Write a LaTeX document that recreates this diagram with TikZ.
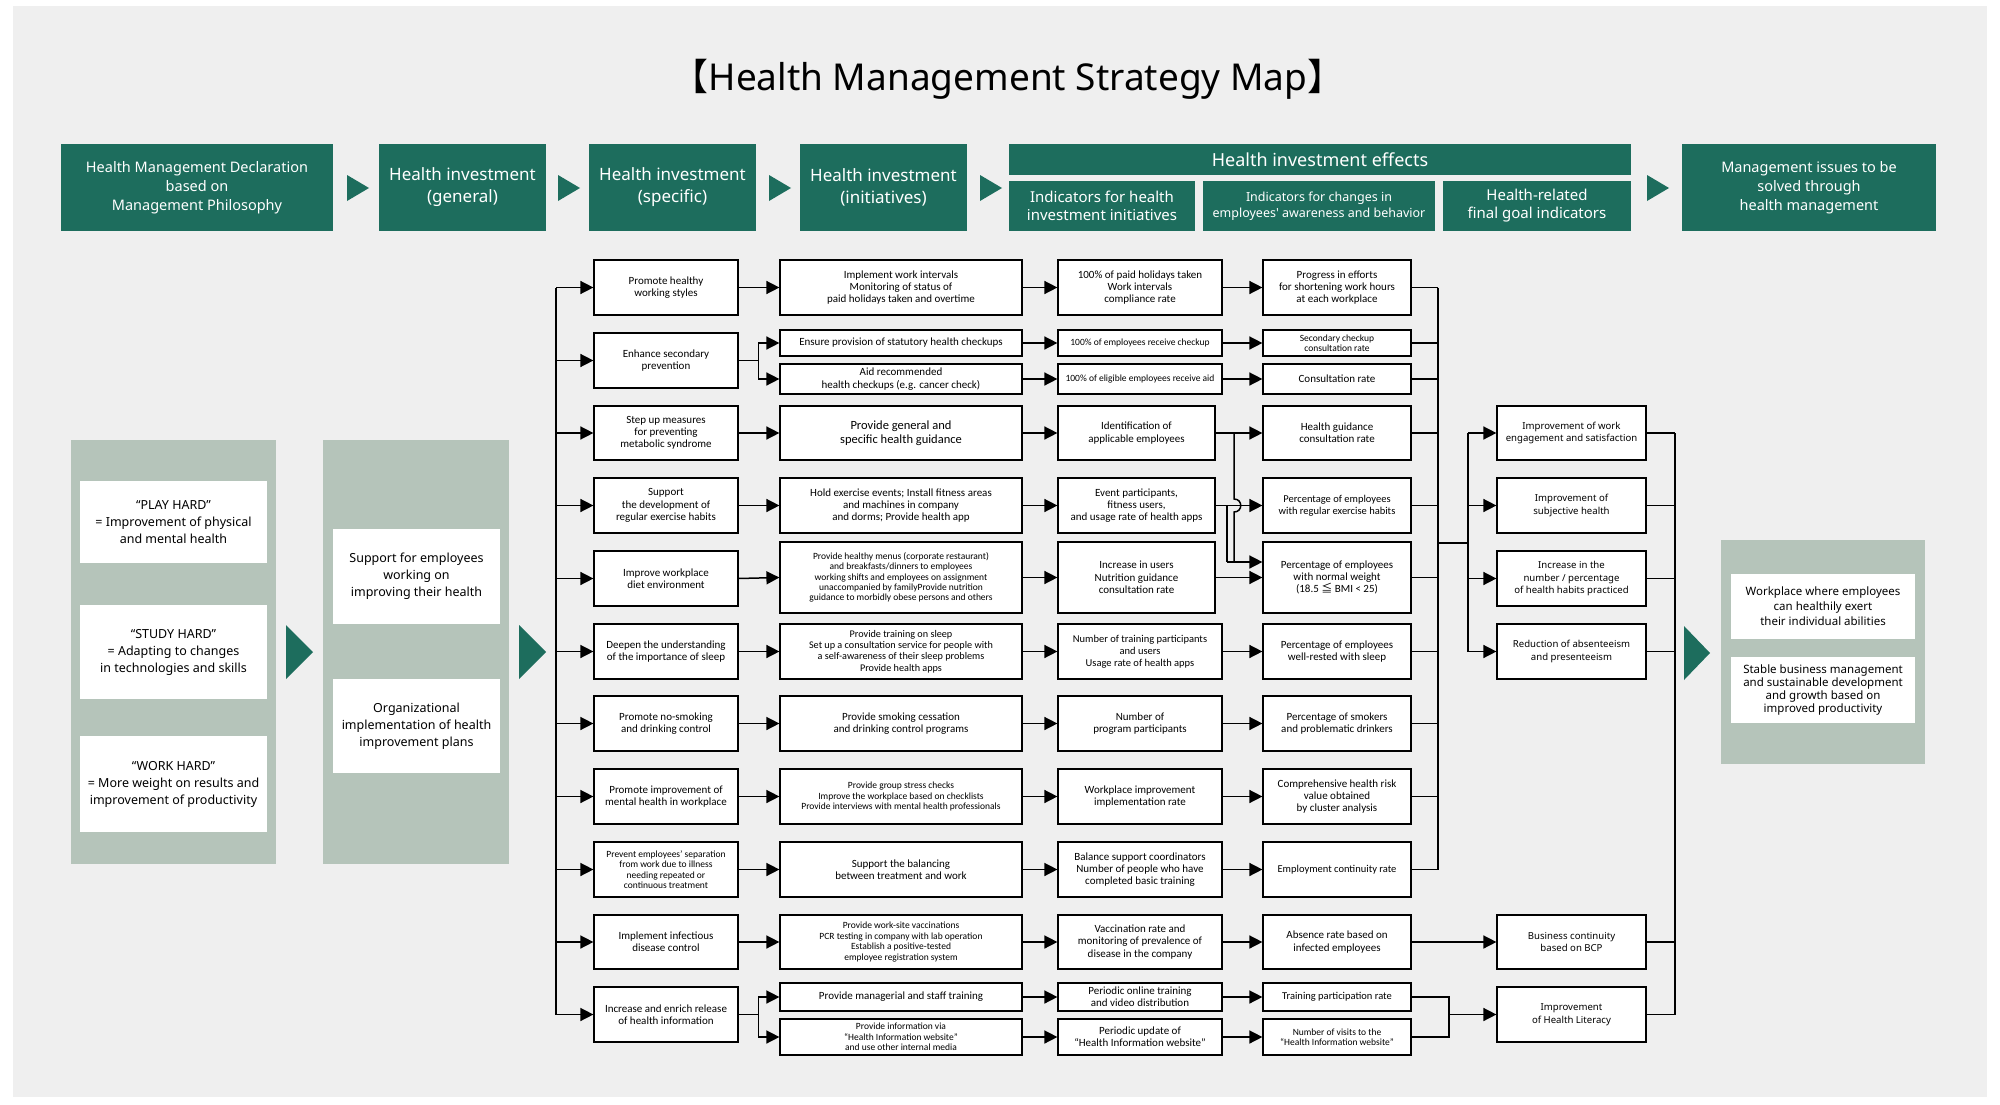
\documentclass[tikz,border=0pt]{standalone}
\usepackage{fontspec}
\setmainfont{Carlito}
\newfontfamily\hdfont{Noto Sans}
\newfontfamily\cjkfont{Noto Sans CJK JP}
\usetikzlibrary{arrows.meta,positioning}
\definecolor{hdgreen}{HTML}{1D6D5D}
\definecolor{panelgray}{HTML}{B5C4BA}
\definecolor{bggray}{HTML}{EFEFEF}
\tikzset{
  cell/.style={draw=black, line width=1.2pt, fill=white, align=center, inner sep=1pt, font=\fontsize{11}{12.3}\selectfont},
  smallcell/.style={cell, font=\fontsize{9.5}{10.4}\selectfont},
  effcell/.style={cell, font=\hdfont\fontsize{9.6}{12.5}\selectfont},
  hdbox/.style={fill=hdgreen, text=white, align=center, inner sep=1pt, font=\hdfont\fontsize{14.5}{19}\selectfont},
  pbox/.style={fill=white, align=center, inner sep=1pt, font=\hdfont\fontsize{12.5}{17}\selectfont},
  arr/.style={line width=1.5pt, -{Triangle[length=13pt,width=13pt]}},
  ln/.style={line width=1.5pt},
  garrow/.style={fill=hdgreen}
}
% box from corners (x1,y1) (x2,y2)
\newcommand{\bx}[7][cell]{\node[#1, minimum width={(#5-#3)*1pt}, minimum height={(#6-#4)*1pt}] (#2) at ({(#3+#5)/2},{(#4+#6)/2}) {#7};}
\begin{document}
\begin{tikzpicture}[x=1pt, y=-1pt]
\useasboundingbox (0,0) rectangle (2000,1105);
\fill[white] (0,0) rectangle (2000,1105);
\fill[bggray] (13,6) rectangle (1987,1097);
\node[font=\hdfont\fontsize{37}{40}\selectfont] (title) at (1008,79) {{\cjkfont 【}Health Management Strategy Map{\cjkfont 】}};
% header
\bx[hdbox]{h1}{61}{144}{333}{231}{Health Management Declaration\\based on\\Management Philosophy}
\bx[hdbox, font=\hdfont\fontsize{17}{22}\selectfont]{h2}{379}{144}{546}{231}{Health investment\\(general)}
\bx[hdbox, font=\hdfont\fontsize{17}{22}\selectfont]{h3}{589}{144}{756}{231}{Health investment\\(specific)}
\bx[hdbox, font=\hdfont\fontsize{17}{22}\selectfont]{h4}{800}{144}{967}{231}{Health investment\\(initiatives)}
\bx[hdbox, font=\hdfont\fontsize{18}{22}\selectfont]{h5}{1009}{144}{1631}{175}{Health investment effects}
\bx[hdbox, font=\hdfont\fontsize{15}{18}\selectfont]{h5a}{1009}{181}{1195}{231}{Indicators for health\\investment initiatives}
\bx[hdbox, font=\hdfont\fontsize{12.5}{16}\selectfont]{h5b}{1203}{181}{1435}{231}{Indicators for changes in\\employees' awareness and behavior}
\bx[hdbox, font=\hdfont\fontsize{15}{18}\selectfont]{h5c}{1443}{181}{1631}{231}{Health-related\\final goal indicators}
\bx[hdbox]{h6}{1682}{144}{1936}{231}{Management issues to be\\solved through\\health management}
\foreach \x in {347,558,769,980,1647}
  \fill[garrow] (\x,175) -- (\x+22,188) -- (\x,201) -- cycle;
% left panels
\fill[panelgray] (71,440) rectangle (276,864);
\bx[pbox]{p1}{80}{481}{267}{563}{“PLAY HARD”\\= Improvement of physical\\and mental health}
\bx[pbox]{p2}{80}{605}{267}{699}{“STUDY HARD”\\= Adapting to changes\\in technologies and skills}
\bx[pbox]{p3}{80}{736}{267}{832}{“WORK HARD”\\= More weight on results and\\improvement of productivity}
\fill[garrow] (286,625) -- (313,652) -- (286,679) -- cycle;
\fill[panelgray] (323,440) rectangle (509,864);
\bx[pbox]{q1}{333}{529}{500}{624}{Support for employees\\working on\\improving their health}
\bx[pbox]{q2}{333}{679}{500}{773}{Organizational\\implementation of health\\improvement plans}
\fill[garrow] (519,625) -- (546,652) -- (519,679) -- cycle;
% right panel
\fill[panelgray] (1721,540) rectangle (1925,764);
\bx[pbox, font=\hdfont\fontsize{11.5}{15}\selectfont]{z1}{1731}{574}{1915}{639}{Workplace where employees\\can healthily exert\\their individual abilities}
\bx[pbox, font=\hdfont\fontsize{11.5}{13}\selectfont]{z2}{1731}{657}{1915}{723}{Stable business management\\and sustainable development\\and growth based on\\improved productivity}
\fill[garrow] (1684,626) -- (1710,653) -- (1684,680) -- cycle;
% column 1
\bx{c1r1}{594}{260}{738}{315}{Promote healthy\\working styles}
\bx{c1r2}{594}{333}{738}{388}{Enhance secondary\\prevention}
\bx{c1r3}{594}{406}{738}{460}{Step up measures\\for preventing\\metabolic syndrome}
\bx{c1r4}{594}{478}{738}{533}{Support\\the development of\\regular exercise habits}
\bx{c1r5}{594}{551}{738}{606}{Improve workplace\\diet environment}
\bx{c1r6}{594}{624}{738}{679}{Deepen the understanding\\of the importance of sleep}
\bx{c1r7}{594}{696}{738}{751}{Promote no-smoking\\and drinking control}
\bx{c1r8}{594}{769}{738}{824}{Promote improvement of\\mental health in workplace}
\bx[smallcell]{c1r9}{594}{842}{738}{897}{Prevent employees' separation\\from work due to illness\\needing repeated or\\continuous treatment}
\bx{c1r10}{594}{915}{738}{969}{Implement infectious\\disease control}
\bx{c1r11}{594}{987}{738}{1042}{Increase and enrich release\\of health information}
% column 2
\bx{c2r1}{780}{260}{1022}{315}{Implement work intervals\\Monitoring of status of\\paid holidays taken and overtime}
\bx{c2r2a}{780}{330}{1022}{356}{Ensure provision of statutory health checkups}
\bx{c2r2b}{780}{364}{1022}{394}{Aid recommended\\health checkups (e.g. cancer check)}
\bx[cell, font=\fontsize{12.5}{14}\selectfont]{c2r3}{780}{406}{1022}{460}{Provide general and\\specific health guidance}
\bx{c2r4}{780}{478}{1022}{533}{Hold exercise events; Install fitness areas\\and machines in company\\and dorms; Provide health app}
\bx[smallcell]{c2r5}{780}{542}{1022}{613}{Provide healthy menus (corporate restaurant)\\and breakfasts/dinners to employees\\working shifts and employees on assignment\\unaccompanied by familyProvide nutrition\\guidance to morbidly obese persons and others}
\bx[smallcell, font=\fontsize{10.2}{11.2}\selectfont]{c2r6}{780}{624}{1022}{679}{Provide training on sleep\\Set up a consultation service for people with\\a self-awareness of their sleep problems\\Provide health apps}
\bx{c2r7}{780}{696}{1022}{751}{Provide smoking cessation\\and drinking control programs}
\bx[smallcell]{c2r8}{780}{769}{1022}{824}{Provide group stress checks\\Improve the workplace based on checklists\\Provide interviews with mental health professionals}
\bx{c2r9}{780}{842}{1022}{897}{Support the balancing\\between treatment and work}
\bx[smallcell]{c2r10}{780}{915}{1022}{969}{Provide work-site vaccinations\\PCR testing in company with lab operation\\Establish a positive-tested\\employee registration system}
\bx{c2r11a}{780}{983}{1022}{1011}{Provide managerial and staff training}
\bx[smallcell]{c2r11b}{780}{1019}{1022}{1055}{Provide information via\\“Health Information website”\\and use other internal media}
% column 3
\bx{c3r1}{1058}{260}{1222}{315}{100\% of paid holidays taken\\Work intervals\\compliance rate}
\bx[smallcell]{c3r2a}{1058}{330}{1222}{356}{100\% of employees receive checkup}
\bx[smallcell]{c3r2b}{1058}{364}{1222}{394}{100\% of eligible employees receive aid}
\bx{c3r3}{1058}{406}{1215}{460}{Identification of\\applicable employees}
\bx{c3r4}{1058}{478}{1215}{533}{Event participants,\\fitness users,\\and usage rate of health apps}
\bx{c3r5}{1058}{542}{1215}{613}{Increase in users\\Nutrition guidance\\consultation rate}
\bx[cell, font=\fontsize{10.5}{12}\selectfont]{c3r6}{1058}{624}{1222}{679}{Number of training participants\\and users\\Usage rate of health apps}
\bx{c3r7}{1058}{696}{1222}{751}{Number of\\program participants}
\bx{c3r8}{1058}{769}{1222}{824}{Workplace improvement\\implementation rate}
\bx{c3r9}{1058}{842}{1222}{897}{Balance support coordinators\\Number of people who have\\completed basic training}
\bx{c3r10}{1058}{915}{1222}{969}{Vaccination rate and\\monitoring of prevalence of\\disease in the company}
\bx{c3r11a}{1058}{983}{1222}{1011}{Periodic online training\\and video distribution}
\bx{c3r11b}{1058}{1019}{1222}{1055}{Periodic update of\\“Health Information website”}
% column 4
\bx{c4r1}{1263}{260}{1411}{315}{Progress in efforts\\for shortening work hours\\at each workplace}
\bx[smallcell]{c4r2a}{1263}{330}{1411}{356}{Secondary checkup\\consultation rate}
\bx{c4r2b}{1263}{364}{1411}{394}{Consultation rate}
\bx{c4r3}{1263}{406}{1411}{460}{Health guidance\\consultation rate}
\bx[cell, font=\fontsize{10.5}{12}\selectfont]{c4r4}{1263}{478}{1411}{533}{Percentage of employees\\with regular exercise habits}
\bx{c4r5}{1263}{542}{1411}{613}{Percentage of employees\\with normal weight\\(18.5 {\cjkfont ≦} BMI < 25)}
\bx{c4r6}{1263}{624}{1411}{679}{Percentage of employees\\well-rested with sleep}
\bx{c4r7}{1263}{696}{1411}{751}{Percentage of smokers\\and problematic drinkers}
\bx{c4r8}{1263}{769}{1411}{824}{Comprehensive health risk\\value obtained\\by cluster analysis}
\bx[cell, font=\fontsize{10.5}{12}\selectfont]{c4r9}{1263}{842}{1411}{897}{Employment continuity rate}
\bx{c4r10}{1263}{915}{1411}{969}{Absence rate based on\\infected employees}
\bx[cell, font=\fontsize{10.5}{12}\selectfont]{c4r11a}{1263}{983}{1411}{1011}{Training participation rate}
\bx[smallcell]{c4r11b}{1263}{1019}{1411}{1055}{Number of visits to the\\“Health Information website”}
% column 5
\bx[effcell]{c5r3}{1497}{406}{1646}{460}{Improvement of work\\engagement and satisfaction}
\bx[effcell]{c5r4}{1497}{478}{1646}{533}{Improvement of\\subjective health}
\bx[effcell]{c5r5}{1497}{551}{1646}{606}{Increase in the\\number / percentage\\of health habits practiced}
\bx[effcell]{c5r6}{1497}{624}{1646}{679}{Reduction of absenteeism\\and presenteeism}
\bx[effcell]{c5r10}{1497}{915}{1646}{969}{Business continuity\\based on BCP}
\bx[effcell]{c5r11}{1497}{987}{1646}{1042}{Improvement\\of Health Literacy}
% connectors
\coordinate (lbus) at (556,0);
\coordinate (bus1) at (1438,0);
\coordinate (bus2) at (1468,0);
\coordinate (rbus) at (1675,0);
\draw[ln] (lbus |- c1r1.west) -- (lbus |- c1r11.west);
\foreach \n in {1,...,11} \draw[arr] (lbus |- c1r\n.west) -- (c1r\n.west);
\foreach \n in {1,3,4,5,6,7,8,9,10} {
  \draw[arr] (c1r\n.east) -- (c2r\n.west);
  \draw[arr] (c2r\n.east) -- (c3r\n.west);
}
\foreach \n in {2,11} {
  \draw[arr] (c1r\n.east) -- ++(20,0) |- (c2r\n a.west);
  \draw[arr] (c1r\n.east) -- ++(20,0) |- (c2r\n b.west);
  \draw[arr] (c2r\n a.east) -- (c3r\n a.west);
  \draw[arr] (c2r\n b.east) -- (c3r\n b.west);
  \draw[arr] (c3r\n a.east) -- (c4r\n a.west);
  \draw[arr] (c3r\n b.east) -- (c4r\n b.west);
}
\foreach \n in {1,3,4,5,6,7,8,9,10} \draw[arr] (c3r\n.east) -- (c4r\n.west);
% branches into normal weight
\coordinate (jv) at (1227,562);
\draw[ln] (c3r4.east -| jv) -- (jv);
\draw[ln] (1234,433) -- (1234,499) .. controls (1243,499) and (1243,512) .. (1234,512) -- (1234,562);
\draw[arr] (jv) -- (c4r5.west |- jv);
% buses to final indicators
\foreach \n in {1,2a,2b,3,4,5,6,7,8,9} \draw[ln] (c4r\n.east) -- (bus1 |- c4r\n.east);
\draw[ln] (bus1 |- c4r1.east) -- (bus1 |- c4r9.east);
\draw[ln] (1438,543) -- (1468,543);
\draw[ln] (bus2 |- c5r3.west) -- (bus2 |- c5r6.west);
\foreach \n in {3,4,5,6} \draw[arr] (bus2 |- c5r\n.west) -- (c5r\n.west);
\draw[arr] (c4r10.east) -- (c5r10.west);
\coordinate (j11) at (1449,1014.5);
\draw[ln] (c4r11a.east) -| (j11) |- (c4r11b.east);
\draw[arr] (j11) -- (c5r11.west);
\foreach \n in {3,4,5,6,10,11} \draw[ln] (c5r\n.east) -- (rbus |- c5r\n.east);
\draw[ln] (rbus |- c5r3.east) -- (rbus |- c5r11.east);
\end{tikzpicture}
\end{document}
